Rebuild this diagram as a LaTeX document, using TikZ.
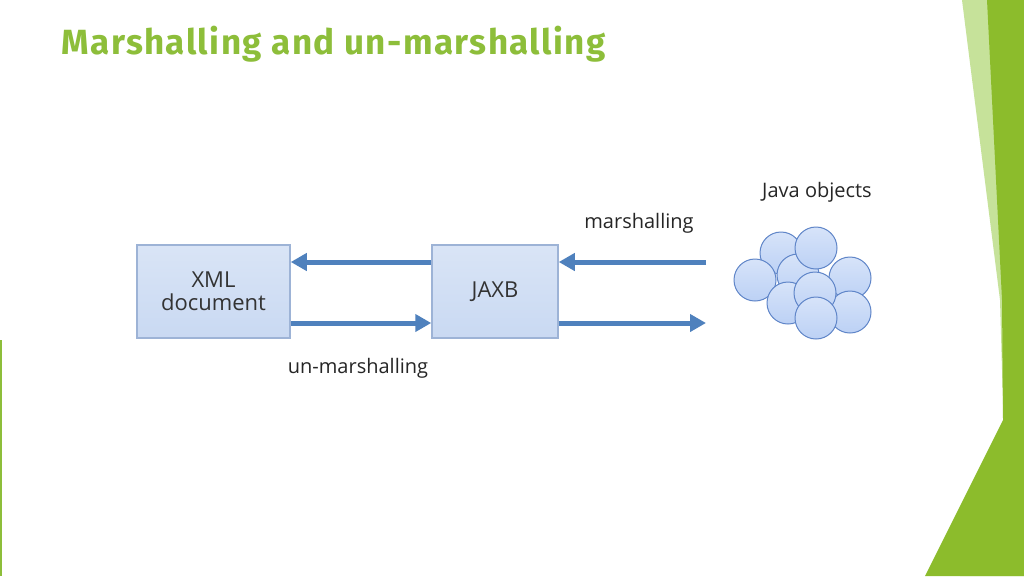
\documentclass[tikz,border=0pt]{standalone}
\usepackage{fontspec}
\setmainfont{Open Sans}
\newfontfamily\titlefont[LetterSpace=4]{Fira Sans}
\usetikzlibrary{arrows.meta}
\definecolor{tgreen}{HTML}{8DBE3A}
\definecolor{dgreen}{HTML}{8CBC2C}
\definecolor{lgreen}{HTML}{C6E29A}
\definecolor{arr}{HTML}{4F81BD}
\definecolor{bfill}{HTML}{C9D9F2}
\definecolor{bdraw}{HTML}{9DB3D6}
\definecolor{cfill}{HTML}{BCD1F5}
\definecolor{cdraw}{HTML}{5F85C8}
\tikzset{
 box/.style={draw=bdraw,line width=1.5pt,top color=bfill!70,bottom color=bfill,minimum width=153pt,minimum height=93pt,align=center,font=\fontsize{22}{25}\selectfont,text=black!80},
 flow/.style={draw=arr,line width=5pt,-{Triangle[length=16pt,width=17pt]}},
 lbl/.style={font=\fontsize{20}{23}\selectfont,text=black!85},
 obj/.style={draw=cdraw,line width=1pt,top color=cfill!60,bottom color=cfill,circle,minimum size=42pt,inner sep=0pt}
}
\begin{document}
\begin{tikzpicture}[x=1pt,y=-1pt]
\useasboundingbox (0,0) rectangle (1024,576);
\fill[white] (0,0) rectangle (1024,576);
% decorations right
\fill[lgreen] (962,0) -- (1024,0) -- (1024,576) -- (960,576) -- (1004,440) -- (1000,300) -- cycle;
\fill[dgreen] (987,0) -- (1024,0) -- (1024,576) -- (925,576) -- (1003,420) -- (1002,300) -- cycle;
\fill[tgreen] (0,340) rectangle (2,576);
% title
\node[anchor=west,font=\titlefont\fontsize{35}{38}\selectfont\bfseries,text=tgreen] (title) at (58,44) {Marshalling and un-marshalling};
% boxes
\node[box] (xml) at (213.5,291.5) {XML\\[-2pt]document};
\node[box,minimum width=126pt] (jaxb) at (495,291.5) {JAXB};
\coordinate (rt) at (706,262);
\coordinate (rb) at (706,323);
\draw[flow] (jaxb.west|-rt) -- (xml.east|-rt);
\draw[flow] (xml.east|-rb) -- (jaxb.west|-rb);
\draw[flow] (rt) -- (jaxb.east|-rt);
\draw[flow] (jaxb.east|-rb) -- (rb);
\node[lbl] (m) at (639,223) {marshalling};
\node[lbl] (u) at (358,368) {un-marshalling};
\node[lbl] (j) at (817,192) {Java objects};
% objects
\node[obj] (o1) at (781,253) {};
\node[obj] (o3) at (755,280) {};
\node[obj] (o4) at (798,275) {};
\node[obj] (o2) at (816,248) {};
\node[obj] (o5) at (850,278) {};
\node[obj] (o6) at (788,303) {};
\node[obj] (o8) at (850,312) {};
\node[obj] (o7) at (815,293) {};
\node[obj] (o9) at (816,318) {};
\end{tikzpicture}
\end{document}
